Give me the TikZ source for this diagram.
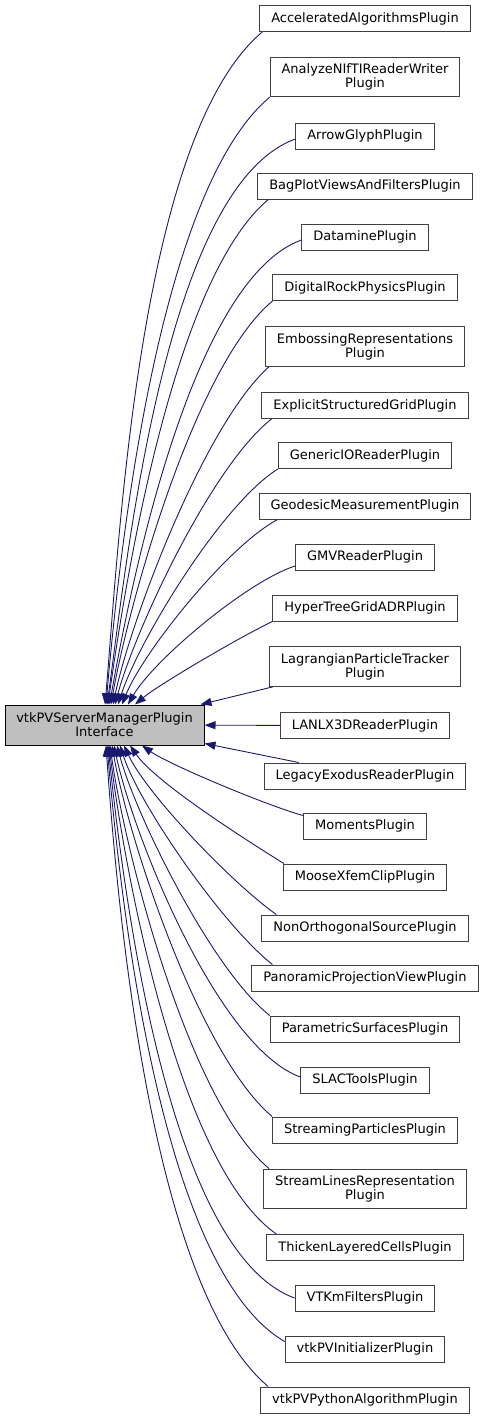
\documentclass[tikz,border=0pt]{standalone}
\usepackage{fontspec}
\setmainfont{DejaVu Sans}
\usepackage{xcolor}
\definecolor{gris75}{gray}{.75}
\definecolor{gris25}{gray}{.25}
\definecolor{azulnoche}{RGB}{25, 25, 112}
\usepackage{tikz}
\usetikzlibrary{arrows.meta}

\begin{document}
\begin{tikzpicture}[
    x=1pt, y=1pt,
    font=\fontsize{13}{14}\selectfont,
    base/.style={rectangle, draw=black, line width=1pt, fill=gris75,
      minimum width=199pt, minimum height=40pt, align=center,
      inner xsep=4pt, inner ysep=6.5pt},
    plugin/.style={rectangle, draw=gris25, line width=1pt,
      minimum height=26pt, align=center, inner xsep=11.5pt, inner ysep=6.5pt},
    link/.style={draw=azulnoche, line width=0.9pt, ->},
    >={Triangle[length=11pt, width=8pt]}
  ]
    \useasboundingbox (0,0) rectangle (484,-1419);

    % base class
    \node[base] (iface) at (104.5,-725) {vtkPVServerManagerPlugin\\Interface};

    % derived plugins
    \node[plugin] (accel)       at (365,-18.5)  {AcceleratedAlgorithmsPlugin};
    \node[plugin] (analyze)     at (365,-77)    {AnalyzeNIfTIReaderWriter\\Plugin};
    \node[plugin] (arrowglyph)  at (365,-136)   {ArrowGlyphPlugin};
    \node[plugin] (bagplot)     at (365,-186)   {BagPlotViewsAndFiltersPlugin};
    \node[plugin] (datamine)    at (365,-237)   {DataminePlugin};
    \node[plugin] (digirock)    at (365,-287.5) {DigitalRockPhysicsPlugin};
    \node[plugin] (emboss)      at (365,-346.5) {EmbossingRepresentations\\Plugin};
    \node[plugin] (explicitgrid) at (365,-405.5) {ExplicitStructuredGridPlugin};
    \node[plugin] (genericio)   at (365,-455.5) {GenericIOReaderPlugin};
    \node[plugin] (geodesic)    at (365,-506)   {GeodesicMeasurementPlugin};
    \node[plugin] (gmv)         at (365,-557)   {GMVReaderPlugin};
    \node[plugin] (hypertree)   at (365,-608)   {HyperTreeGridADRPlugin};
    \node[plugin] (lagrangian)  at (365,-666.5) {LagrangianParticleTracker\\Plugin};
    \node[plugin] (lanlx)       at (365,-725.5) {LANLX3DReaderPlugin};
    \node[plugin] (legacyexo)   at (365,-776)   {LegacyExodusReaderPlugin};
    \node[plugin] (moments)     at (365,-826)   {MomentsPlugin};
    \node[plugin] (moosexfem)   at (365,-877)   {MooseXfemClipPlugin};
    \node[plugin] (nonortho)    at (365,-928)   {NonOrthogonalSourcePlugin};
    \node[plugin] (panoramic)   at (365,-978)   {PanoramicProjectionViewPlugin};
    \node[plugin] (parametric)  at (365,-1029)  {ParametricSurfacesPlugin};
    \node[plugin] (slactools)   at (365,-1080)  {SLACToolsPlugin};
    \node[plugin] (streampart)  at (365,-1130)  {StreamingParticlesPlugin};
    \node[plugin] (streamlines) at (365,-1189)  {StreamLinesRepresentation\\Plugin};
    \node[plugin] (thicken)     at (365,-1247.5) {ThickenLayeredCellsPlugin};
    \node[plugin] (vtkmfilt)    at (365,-1298)  {VTKmFiltersPlugin};
    \node[plugin] (pvinit)      at (365,-1349)  {vtkPVInitializerPlugin};
    \node[plugin] (pvpython)    at (365,-1400)  {vtkPVPythonAlgorithmPlugin};

    % inheritance arrows, upper half
    \draw[link] ([xshift=3pt]accel.south west) to[out=220, in=85, looseness=0.6] ([xshift=0.5pt]iface.north);
    \draw[link] (analyze.south west) to[out=220, in=85, looseness=0.6] ([xshift=1.5pt]iface.north);
    \draw[link] ([yshift=-3pt]arrowglyph.west) to[out=200, in=82, looseness=0.6] ([xshift=2.5pt]iface.north);
    \draw[link] ([xshift=11pt]bagplot.south west) to[out=220, in=82, looseness=0.6] ([xshift=3.5pt]iface.north);
    \draw[link] ([yshift=-3pt]datamine.west) to[out=200, in=80, looseness=0.6] ([xshift=5pt]iface.north);
    \draw[link] (digirock.south west) to[out=220, in=80, looseness=0.6] ([xshift=6.5pt]iface.north);
    \draw[link] ([xshift=4pt]emboss.south west) to[out=222, in=78, looseness=0.6] ([xshift=8.5pt]iface.north);
    \draw[link] ([xshift=10pt]explicitgrid.south west) to[out=218, in=75, looseness=0.6] ([xshift=10.5pt]iface.north);
    \draw[link] (genericio.south west) to[out=212, in=72, looseness=0.6] ([xshift=13.5pt]iface.north);
    \draw[link] ([xshift=19pt]geodesic.south west) to[out=208, in=68, looseness=0.6] ([xshift=17.5pt]iface.north);
    \draw[link] ([yshift=-9pt]gmv.west) to[out=198, in=60, looseness=0.6] ([xshift=23.5pt]iface.north);
    \draw[link] (hypertree.south west) to[out=205, in=40, looseness=0.5] ([xshift=30.5pt]iface.north);
    \draw[link] ([xshift=4pt]lagrangian.south west) -- ([xshift=-4pt]iface.north east);
    \draw[link] (lanlx) -- (iface);

    % inheritance arrows, lower half
    \draw[link] ([xshift=35pt]legacyexo.north west) -- ([yshift=2pt]iface.south east);
    \draw[link] ([yshift=-3pt]moments.north west) to[out=165, in=-35, looseness=0.5] ([xshift=37.5pt]iface.south);
    \draw[link] ([xshift=1pt]moosexfem.north west) to[out=148, in=-55, looseness=0.6] ([xshift=25.5pt]iface.south);
    \draw[link] ([xshift=15pt]nonortho.north west) to[out=145, in=-65, looseness=0.6] ([xshift=19.5pt]iface.south);
    \draw[link] ([xshift=21pt]panoramic.north west) to[out=142, in=-72, looseness=0.6] ([xshift=15.5pt]iface.south);
    \draw[link] (parametric.north west) to[out=142, in=-75, looseness=0.6] ([xshift=12.5pt]iface.south);
    \draw[link] ([yshift=3pt]slactools.west) to[out=160, in=-78, looseness=0.6] ([xshift=9.5pt]iface.south);
    \draw[link] (streampart.north west) to[out=140, in=-80, looseness=0.6] ([xshift=7.5pt]iface.south);
    \draw[link] ([xshift=6pt]streamlines.north west) to[out=140, in=-82, looseness=0.6] ([xshift=5.5pt]iface.south);
    \draw[link] ([xshift=10pt]thicken.north west) to[out=145, in=-83, looseness=0.6] ([xshift=4.5pt]iface.south);
    \draw[link] (vtkmfilt.west) to[out=160, in=-84, looseness=0.6] ([xshift=3.5pt]iface.south);
    \draw[link] ([yshift=-6pt]pvinit.north west) to[out=150, in=-85, looseness=0.6] ([xshift=2.5pt]iface.south);
    \draw[link] ([xshift=8pt]pvpython.north west) to[out=140, in=-86, looseness=0.6] ([xshift=1.5pt]iface.south);
  \end{tikzpicture}
\end{document}
